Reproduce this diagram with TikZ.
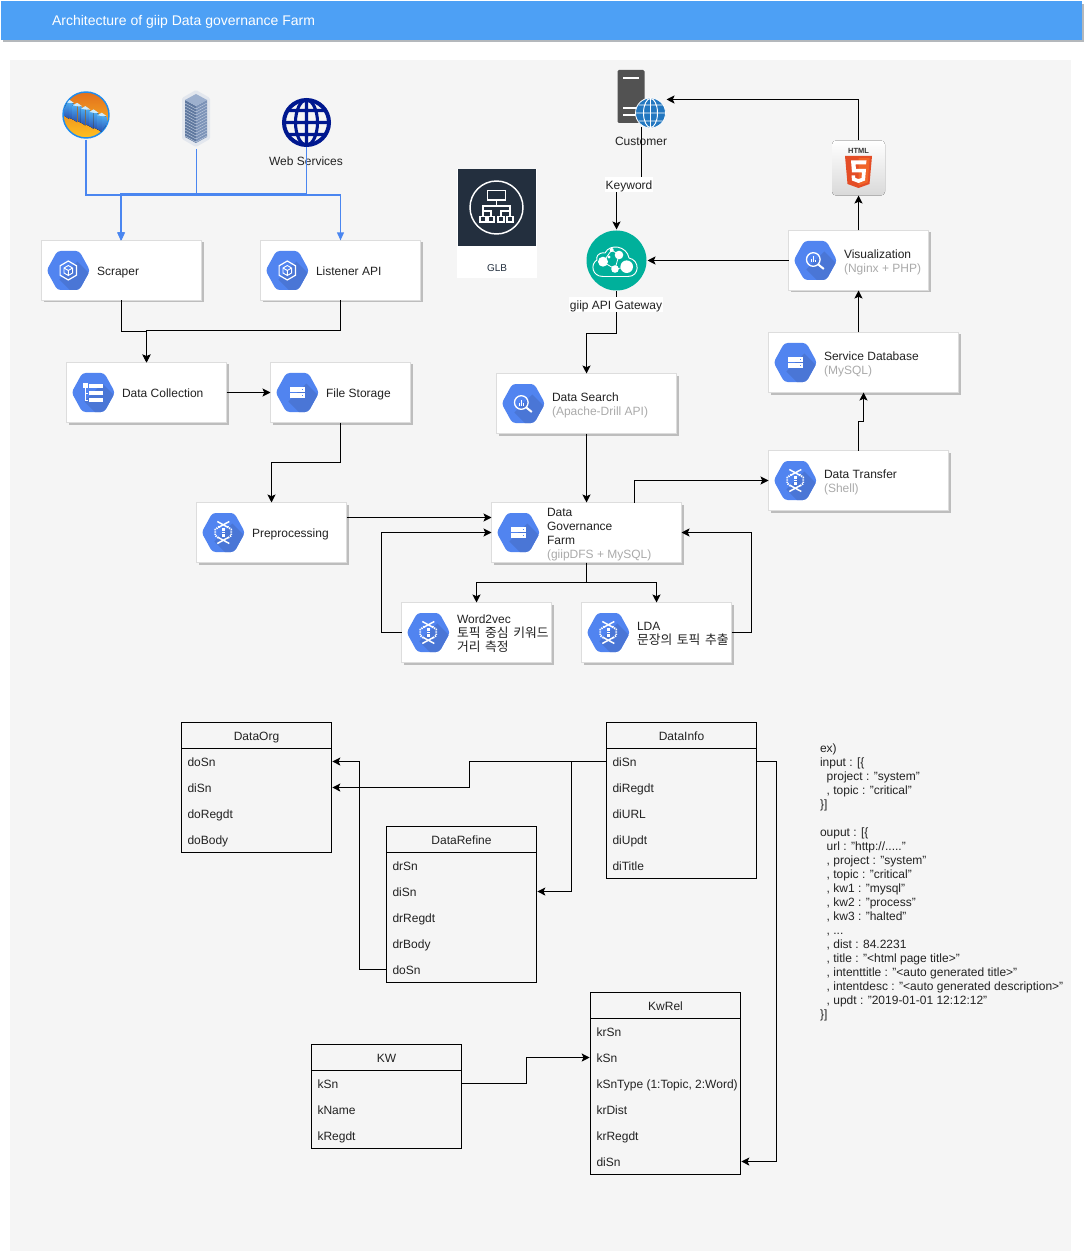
\documentclass[tikz,border=0pt]{standalone}
\usepackage{fontspec}
\setmainfont{Liberation Sans}
\newfontfamily\cjkfam[WordSpace=1.6]{Noto Sans CJK KR}
\newcommand\cjk{\cjkfam\fontsize{9.6}{10.5}\selectfont}
\usetikzlibrary{arrows.meta}
\definecolor{panel}{HTML}{F5F5F5}
\definecolor{headbar}{HTML}{4DA0F5}
\definecolor{headshadow}{HTML}{B4B8BC}
\definecolor{cardedge}{HTML}{DDDDDD}
\definecolor{cardshadow}{HTML}{BDBDBD}
\definecolor{hexblue}{HTML}{5184F0}
\definecolor{hexdark}{HTML}{4A76D6}
\definecolor{txt}{HTML}{222222}
\definecolor{subtxt}{HTML}{AAAAAA}
\definecolor{flowblue}{HTML}{4A86F0}
\definecolor{navy}{HTML}{00188F}
\definecolor{teal}{HTML}{00B09B}
\definecolor{glbdark}{HTML}{232F3E}
\definecolor{globeblue}{HTML}{2277C0}
\definecolor{rackring}{HTML}{1E8CF0}
\definecolor{racktop}{HTML}{E2701E}
\definecolor{rackbot}{HTML}{FFC020}
\definecolor{towerlight}{HTML}{4FB0F5}
\definecolor{towerdark}{HTML}{2850B0}
\definecolor{towerpale}{HTML}{CDEBFC}
\definecolor{srvhex}{HTML}{E3E7EE}
\definecolor{srvleft}{HTML}{5F789F}
\definecolor{srvright}{HTML}{7C93B8}
\definecolor{srvtop}{HTML}{9DB0CE}
\definecolor{srvline}{HTML}{C5D0E2}
\definecolor{htmlorange}{HTML}{E44D26}
\definecolor{htmllight}{HTML}{F16529}
\tikzset{
  every node/.style={font=\fontsize{9}{10.5}\selectfont,text=txt,inner sep=0pt,outer sep=0pt},
  cardbox/.style={draw=cardedge,line width=.75pt,fill=white},
  cardtext/.style={anchor=west,align=left},
  conn/.style={draw=black,line width=.75pt},
  arr/.style={conn,-{Stealth[length=6pt,width=6pt,inset=1.3pt]}},
  flow/.style={draw=flowblue,line width=1.2pt},
  flowarr/.style={flow,-{Stealth[length=6pt,width=5pt,inset=0pt]}},
  tbl/.style={draw=black,line width=.75pt},
  lbl/.style={align=center},
}
\newcommand\sbt[1]{\textcolor{subtxt}{#1}}
\newcommand\st{\rule[-1.8pt]{0pt}{10.46pt}}
% hexagon badge
\newcommand\hexicon[3]{%
 \begin{scope}[shift={({#1},{#2})}]
  \begin{scope}
   \clip[rounded corners=2.5pt] (-21.7,0)--(-11,-19.5)--(11,-19.5)--(21.7,0)--(11,19.5)--(-11,19.5)--cycle;
   \fill[hexblue] (-30,-30) rectangle (30,30);
   \fill[hexdark] (-9,9)--(9,-9)--(32,14)--(14,32)--cycle;
  \end{scope}
  #3
 \end{scope}}
\newcommand\icCube{%
  \draw[white,line width=.9pt] (0,-9.5)--(8.2,-4.7)--(8.2,4.7)--(0,9.5)--(-8.2,4.7)--(-8.2,-4.7)--cycle;
  \draw[white,line width=.7pt] (0,-5)--(4.3,-2.5)--(4.3,2.5)--(0,5)--(-4.3,2.5)--(-4.3,-2.5)--cycle (-4.3,-2.5)--(0,0)--(4.3,-2.5) (0,0)--(0,5);}
\newcommand\icDisk{%
  \fill[white] (-7.5,-5.5) rectangle (7.5,-.8);
  \fill[white] (-7.5,.8) rectangle (7.5,5.5);
  \fill[hexblue] (4.5,-3.8) rectangle (5.8,-2.6);
  \fill[hexblue] (4.5,2.5) rectangle (5.8,3.7);}
\newcommand\icList{%
  \fill[white] (-10.5,-9.5) rectangle (-5.5,-4.5);
  \draw[white,line width=.6pt] (-8,-4.5)--(-8,7.5)--(-5,7.5) (-8,.5)--(-5,.5);
  \fill[white] (-4.5,-8.5) rectangle (9.5,-5);
  \fill[white] (-4.5,-1.5) rectangle (9.5,2);
  \fill[white] (-4.5,5.5) rectangle (9.5,9);}
\newcommand\icFlow{%
  \draw[white,line width=1.1pt] (-6,-11)--(5,-5) (6,-11)--(-5,-5) (-6,11)--(5,5) (6,11)--(-5,5);
  \draw[white,line width=1.4pt,dash pattern=on 1pt off .7pt] (-4,-6)--(-8,-3)--(-8,3)--(-4,6) (4,-6)--(8,-3)--(8,3)--(4,6);
  \fill[white] (-1.5,-4.5) rectangle (1.5,-1.5);
  \fill[white] (-1.5,-.5) rectangle (1.5,.5);
  \fill[white] (-1.5,1.5) rectangle (1.5,4.5);}
\newcommand\icMag{%
  \draw[white,line width=1pt] (-2,-1) circle (6.8);
  \draw[white,line width=1.5pt] (3,4)--(8.5,8.5);
  \fill[white] (-4.6,-1) rectangle (-3.4,2);
  \fill[white] (-2.6,-4) rectangle (-1.4,2);
  \fill[white] (-.6,-.5) rectangle (.6,2);}
% card: name,x,y,w,h,icon,text
\newcommand\card[7]{%
 \fill[cardshadow] ({#2+2},{#3+2}) rectangle ({#2+#4+2},{#3+#5+2});
 \node[cardbox,minimum width=#4*.75pt,minimum height=#5*.75pt] (#1) at ({#2+#4/2},{#3+#5/2}) {};
 \hexicon{#2+26.8}{#3+#5/2}{#6}
 \node[cardtext] (#1-t) at ({#2+55.5},{#3+#5/2}) {\st #7\st};}
% table: id,x,y,h,title
\newcommand\tbl[5]{%
 \node[tbl,minimum width=150*.75pt,minimum height=#4*.75pt] (#1) at ({#2+75},{#3+#4/2}) {};
 \node[minimum width=150*.75pt,minimum height=26*.75pt] (#1-h) at ({#2+75},{#3+13}) {\st #5};
 \draw[tbl] (#1-h.south west)--(#1-h.south east);}
% row: id,x,y,text
\newcommand\trow[4]{%
 \node[minimum width=150*.75pt,minimum height=26*.75pt] (#1) at ({#2+75},{#3}) {\hspace*{4.5pt}\makebox[108pt][l]{\st #4}};}
\begin{document}
\begin{tikzpicture}[x=.75pt,y=-.75pt]
\useasboundingbox (0,0) rectangle (1084,1251);
\fill[white] (0,0) rectangle (1084,1251);
% header
\fill[headshadow] (3,4) rectangle (1083.5,42.5);
\node[fill=headbar,minimum width=1081*.75pt,minimum height=39.5*.75pt] (head) at (541.5,20.75) {};
\node[anchor=west,text=white,font=\fontsize{10.5}{12}\selectfont] (title) at (52,21) {\st Architecture of giip Data governance Farm};
% panel
\node[fill=panel,minimum width=1061*.75pt,minimum height=1191*.75pt] (panelbg) at (540.5,655.5) {};

% ---- source icons
\node[minimum width=47*.75pt,minimum height=50*.75pt] (rack) at (86,115) {};
\draw[draw=rackring,line width=1.1pt,top color=racktop,bottom color=rackbot] (86,115) circle (23);
\begin{scope}
\clip (86,115) circle (22.5);
\foreach \i in {0,...,4}{
  \fill[top color=towerlight,bottom color=towerdark] ({64.5+\i*8.2},{102+\i*3.3}) -- ({69+\i*8.2},{101+\i*3.3}) -- ({69+\i*8.2},{119+\i*3.3}) -- ({64.5+\i*8.2},{116+\i*3.3}) -- cycle;
  \fill[top color=towerlight,bottom color=towerdark] ({69.6+\i*8.2},{102+\i*3.3}) -- ({74+\i*8.2},{104+\i*3.3}) -- ({74+\i*8.2},{120+\i*3.3}) -- ({69.6+\i*8.2},{118+\i*3.3}) -- cycle;
  \fill[towerpale] ({64.5+\i*8.2},{102+\i*3.3}) -- ({69+\i*8.2},{99.5+\i*3.3}) -- ({74+\i*8.2},{103+\i*3.3}) -- ({69.5+\i*8.2},{103+\i*3.3}) -- cycle;
}
\end{scope}
\node[minimum width=28*.75pt,minimum height=59*.75pt] (srv) at (196.3,119.5) {};
\fill[rounded corners=1pt,srvhex] (196,90)--(210,98)--(210,139)--(196,147)--(182,139)--(182,98)--cycle;
\fill[srvleft] (185,100)--(196,106)--(196,143)--(185,137)--cycle;
\fill[srvright] (207,100)--(196,106)--(196,143)--(207,137)--cycle;
\fill[srvtop] (196,94)--(207,100)--(196,106)--(185,100)--cycle;
\foreach \k in {0,...,11}{
  \draw[srvline,line width=.3pt] (185,{103+\k*3}) -- (196,{109+\k*3}) -- (207,{103+\k*3});
}
\node[minimum width=50*.75pt,minimum height=49*.75pt] (web) at (306.3,122.5) {};
\draw[navy,line width=3pt] (306.5,122.5) circle (22.5);
\draw[navy,line width=2.3pt] (306.5,122.5) ellipse (11 and 22.5) (306.5,100)--(306.5,145) (284,122.5)--(329,122.5) (288,110.5)--(325,110.5) (288,134.5)--(325,134.5);

% ---- cards
\card{scraper}{41.5}{240.5}{160}{60}{\icCube}{Scraper}
\card{listener}{260.5}{240.5}{160}{60}{\icCube}{Listener API}
\card{coll}{66.5}{362.5}{160}{60}{\icList}{Data Collection}
\card{store}{270.5}{362.5}{140}{60}{\icDisk}{File Storage}
\card{prep}{196.5}{502.5}{150}{60}{\icFlow}{Preprocessing}
\card{search}{496.5}{373.5}{180}{60}{\icMag}{Data Search\\\sbt{(Apache-Drill API)}}
\card{farm}{491.5}{502.5}{190}{60}{\icDisk}{Data\\Governance\\Farm\\\sbt{(giipDFS + MySQL)}}
\card{w2v}{401.5}{602.5}{150}{60}{\icFlow}{Word2vec\\{\cjk 토픽 중심 키워드}\\{\cjk 거리 측정}}
\card{lda}{581.5}{602.5}{150}{60}{\icFlow}{LDA\\{\cjk 문장의 토픽 추출}}
\card{transfer}{768.5}{450.5}{180}{60}{\icFlow}{Data Transfer\\\sbt{(Shell)}}
\card{svcdb}{768.5}{332.5}{190}{60}{\icDisk}{Service Database\\\sbt{(MySQL)}}
\card{viz}{788.5}{230.5}{140}{60}{\icMag}{Visualization\\\sbt{(Nginx + PHP)}}

% ---- customer
\node[minimum width=50*.75pt,minimum height=55*.75pt] (cust) at (641.5,99.5) {};
\fill[fill=black!68,rounded corners=1pt] (617.5,123) -- (617.5,70) -- (644.5,70) -- (644.5,123) -- cycle;
\fill[white] (623,77) rectangle (639,79);
\fill[white] (623,107.5) rectangle (640,109.5);
\fill[white] (623,114.5) rectangle (637,116.5);
\fill[globeblue,draw=white,line width=.6pt] (650.5,113) circle (15);
\draw[white,line width=.7pt] (650.5,113) ellipse (7 and 14.5) (650.5,98.5)--(650.5,127.5) (636,113)--(665,113) (638.5,105)--(662.5,105) (638.5,121)--(662.5,121);
% ---- gateway
\node[circle,fill=teal,minimum size=60*.75pt,outer sep=.75pt] (gw) at (616.5,260.5) {};
\draw[white,line width=.7pt] (603,276.5)--(628,276.5) .. controls (640,276.5) and (640,260) .. (629,258) .. controls (627,246) and (610,243) .. (605,253) .. controls (597,252) and (596,258) .. (597,260) .. controls (590,264) and (592,276.5) .. (603,276.5);
\draw[white,line width=.6pt] (603,262)--(615,269)--(627,267) (611.7,250)--(619,255)--(615,269) (603,262)--(611.7,250);
\fill[white] (603,261.7) circle (5) (619,255) circle (4.3) (626.7,266.7) circle (6.3) (615,269) circle (3.8) (611.7,250) circle (2) (609,257) circle (1.6);
% ---- html5
\node[minimum width=53*.75pt,minimum height=55*.75pt] (html) at (858.5,168) {};
\fill[rounded corners=3pt,top color=white,bottom color=black!15] (832,140.5) rectangle (885,195.5);
\node[font=\bfseries\fontsize{5.6}{6}\selectfont,text=black!80] (htmltxt) at (858.5,151) {HTML};
\fill[htmlorange] (845,156)--(872,156)--(869.5,184)--(858.5,188)--(847.5,184)--cycle;
\fill[htmllight] (858.5,158)--(869.7,158)--(867.7,182.5)--(858.5,185.5)--cycle;
\fill[white] (851,160.5)--(866.5,160.5)--(866,164.5)--(855.5,164.5)--(856,169)--(866,169)--(865,180.5)--(858.5,183)--(852,180.5)--(851.5,175.5)--(855,175.5)--(855.3,178)--(858.5,179)--(861.5,178)--(862,172.5)--(852,172.5)--cycle;
% ---- GLB
\node[fill=white,minimum width=80*.75pt,minimum height=109*.75pt] (glb) at (496.5,223.5) {};
\fill[glbdark] (457.5,169) rectangle (535.5,246.5);
\draw[white,line width=1.1pt] (496.5,207.5) circle (26.5);
\draw[white,line width=1pt] (487.5,190.5) rectangle (505.5,200);
\draw[white,line width=.9pt] (496.5,200)--(496.5,206) (483,216)--(483,206)--(510,206)--(510,216) (491,216)--(491,211)--(483,211) (501,216)--(501,211)--(510,211);
\draw[white,line width=.9pt] (480,216.5) rectangle (486,222) (488,216.5) rectangle (494,222) (498,216.5) rectangle (504,222) (507,216.5) rectangle (513,222);
\node[font=\fontsize{7.5}{9}\selectfont,text=glbdark] (glbt) at (497,268.5) {GLB};

% ---- blue feeds
\draw[flowarr] (rack.south) -- (rack.south |- 0,195.3) -| (scraper.north);
\draw[flowarr] (rack.south) -- (rack.south |- 0,195.3) -| (listener.north);
\draw[flowarr] (srv.south) -- (srv.south |- 0,194) -| ([xshift=-.5pt]scraper.north);
\draw[flowarr] (web.south) -- (web.south |- 0,194) -| ([xshift=-.5pt]scraper.north);
\node[lbl] (webl) at (306,160.5) {\st Web Services};
\draw[flow] (web.south) -- (web.south |- 0,194);

% ---- black connectors, top diagram
\draw[arr] (scraper.south) -- (scraper.south |- 0,331.5) -| (coll.north);
\draw[arr] (listener.south) -- (listener.south |- 0,330.5) -| (coll.north);
\draw[arr] (coll.east) -- (store.west);
\draw[arr] (store.south) -- (store.south |- 0,462.5) -| (prep.north);
\draw[arr] ([yshift=11.25pt]prep.east) -- ([yshift=11.25pt]farm.west);
\draw[arr] (w2v.west) -| (381.5,532.5) -- (farm.west);
\draw[arr] (lda.east) -| (751.5,532.5) -- (farm.east);
\draw[arr] (farm.south) -- (farm.south |- 0,582.5) -| (w2v.north);
\draw[arr] (farm.south) -- (farm.south |- 0,582.5) -| (lda.north);
\draw[arr] (search.south) -- (farm.north);
\draw[arr] (634.5,502.5) |- (transfer.west);
\draw[arr] (transfer.north) -- (858.5,421.5) -| (svcdb.south);
\draw[arr] (858.5,332.5) -- (viz.south);
\draw[arr] (viz.north) -- (html.south);
\draw[arr] (viz.west) -- (gw.east);
\draw[arr] (html.north) |- (cust.east);
\draw[arr] (gw.south) -- (gw.south |- 0,333.5) -| (search.north);
\draw[arr] (cust.south) -- (cust.south |- 0,184.5) -| (gw.north);
\node[lbl] (custl) at (641,141) {\st Customer};
\draw[conn] (cust.south) -- (cust.south |- 0,178);
\node[lbl,fill=white,inner xsep=.5pt] (kwl) at (629,184.5) {\st Keyword};
\node[lbl,fill=white,inner xsep=.5pt] (gwl) at (616,304.5) {\st giip API Gateway};

% ---- tables
\tbl{dorg}{181.5}{722.5}{130}{DataOrg}
\trow{dorg1}{181.5}{761.5}{doSn}
\trow{dorg2}{181.5}{787.5}{diSn}
\trow{dorg3}{181.5}{813.5}{doRegdt}
\trow{dorg4}{181.5}{839.5}{doBody}
\tbl{dref}{386.5}{826.5}{156}{DataRefine}
\trow{dref1}{386.5}{865.5}{drSn}
\trow{dref2}{386.5}{891.5}{diSn}
\trow{dref3}{386.5}{917.5}{drRegdt}
\trow{dref4}{386.5}{943.5}{drBody}
\trow{dref5}{386.5}{969.5}{doSn}
\tbl{dinf}{606.5}{722.5}{156}{DataInfo}
\trow{dinf1}{606.5}{761.5}{diSn}
\trow{dinf2}{606.5}{787.5}{diRegdt}
\trow{dinf3}{606.5}{813.5}{diURL}
\trow{dinf4}{606.5}{839.5}{diUpdt}
\trow{dinf5}{606.5}{865.5}{diTitle}
\tbl{krel}{590.5}{992.5}{182}{KwRel}
\trow{krel1}{590.5}{1031.5}{krSn}
\trow{krel2}{590.5}{1057.5}{kSn}
\trow{krel3}{590.5}{1083.5}{kSnType (1:Topic, 2:Word)}
\trow{krel4}{590.5}{1109.5}{krDist}
\trow{krel5}{590.5}{1135.5}{krRegdt}
\trow{krel6}{590.5}{1161.5}{diSn}
\tbl{kw}{311.5}{1044.5}{104}{KW}
\trow{kw1}{311.5}{1083.5}{kSn}
\trow{kw2}{311.5}{1109.5}{kName}
\trow{kw3}{311.5}{1135.5}{kRegdt}
% table connectors
\draw[arr,shorten >=.6pt] (dinf1.west) -| (469.5,787.5) -- (dorg2.east);
\draw[arr,shorten >=.6pt] (dinf1.west) -| (571.5,891.5) -- (dref2.east);
\draw[arr,shorten >=.6pt] (dref5.west) -| (359.5,761.5) -- (dorg1.east);
\draw[arr,shorten >=.6pt] (dinf1.east) -| (776.5,1161.5) -- (krel6.east);
\draw[arr,shorten >=.6pt] (kw1.east) -| (526.5,1057.5) -- (krel2.west);

% ---- sample text
\node[anchor=north west,align=left] (sample) at (820,741.3) {\st ex)\\
input : [\{\\
\hspace*{5pt}project : "system"\\
\hspace*{5pt}, topic : "critical"\\
\}]\\
\mbox{}\\
ouput : [\{\\
\hspace*{5pt}url : "http://....."\\
\hspace*{5pt}, project : "system"\\
\hspace*{5pt}, topic : "critical"\\
\hspace*{5pt}, kw1 : "mysql"\\
\hspace*{5pt}, kw2 : "process"\\
\hspace*{5pt}, kw3 : "halted"\\
\hspace*{5pt}, ...\\
\hspace*{5pt}, dist : 84.2231\\
\hspace*{5pt}, title : "<html page title>"\\
\hspace*{5pt}, intenttitle : "<auto generated title>"\\
\hspace*{5pt}, intentdesc : "<auto generated description>"\\
\hspace*{5pt}, updt : "2019-01-01 12:12:12"\\
\}]};
\end{tikzpicture}
\end{document}
